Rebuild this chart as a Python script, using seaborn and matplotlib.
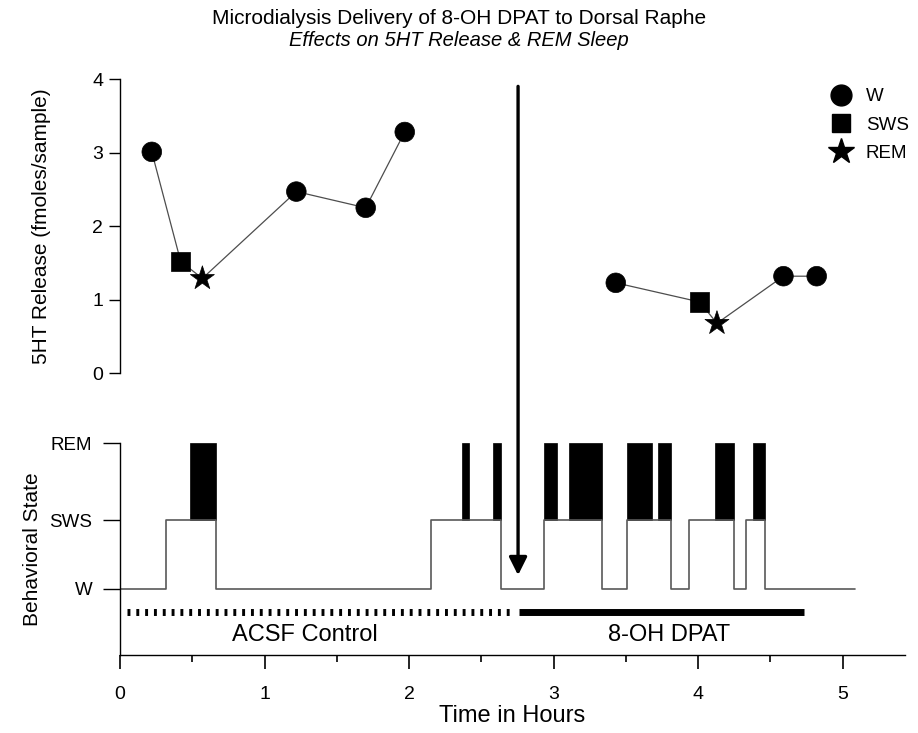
import matplotlib
matplotlib.use("Agg")
import matplotlib.pyplot as plt
import seaborn as sns
import pandas as pd
from matplotlib.lines import Line2D
from matplotlib.ticker import MultipleLocator

# ---------------- data ----------------
release_time = [0.22, 0.42, 0.57, 1.22, 1.70, 1.97, 3.43, 4.01, 4.13, 4.59, 4.82]
release_value = [3.01, 1.52, 1.29, 2.47, 2.25, 3.28, 1.23, 0.97, 0.68, 1.32, 1.32]
release_state = ["W", "SWS", "REM", "W", "W", "W", "W", "SWS", "REM", "W", "W"]
release_segment = ["ACSF"] * 6 + ["DPAT"] * 5

hyp_start = [0.0, 0.316, 0.487, 0.666, 2.150, 2.367, 2.417, 2.583, 2.635, 2.934,
             3.026, 3.109, 3.334, 3.507, 3.682, 3.725, 3.811, 3.940, 4.116, 4.246,
             4.332, 4.381, 4.464]
hyp_state = ["W", "SWS", "REM", "W", "SWS", "REM", "SWS", "REM", "W", "REM",
             "SWS", "REM", "W", "REM", "SWS", "REM", "W", "SWS", "REM", "W",
             "SWS", "REM", "W"]
hyp_end = 5.088

state_labels = ["W", "SWS", "REM"]
treatments = ["ACSF Control", "8-OH DPAT"]
treatment_start = [0.046, 2.76]
treatment_end = [2.72, 4.73]
injection_time = 2.754

# ---------------- style ----------------
sns.set_theme(style="ticks")
plt.rcParams["font.family"] = ["Liberation Sans", "DejaVu Sans"]
plt.rcParams["axes.linewidth"] = 1.0
plt.rcParams["text.color"] = "black"
plt.rcParams["axes.labelcolor"] = "black"

level = {"W": 0.0, "SWS": 1.0, "REM": 2.116}

fig = plt.figure(figsize=(9.18, 7.33), dpi=100)
ax_top = fig.add_axes([0.1307, 0.4907, 0.855, 0.4015])
ax_bot = fig.add_axes([0.1307, 0.1064, 0.855, 0.2892])

# ---------------- top panel ----------------
df = pd.DataFrame({"time": release_time, "release": release_value,
                   "state": release_state, "segment": release_segment})
sns.lineplot(data=df, x="time", y="release", units="segment", estimator=None,
             sort=False, color="0.3", lw=0.9, ax=ax_top, legend=False)
sns.scatterplot(data=df, x="time", y="release", style="state",
                markers={"W": "o", "SWS": "s", "REM": "*"},
                size="state", sizes={"W": 200, "SWS": 190, "REM": 330},
                color="black", edgecolor="black", linewidth=0.5,
                ax=ax_top, legend=False, zorder=3)
ax_top.set_xlim(0, 5.43)
ax_top.set_ylim(0, 4)
ax_top.set_yticks([0, 1, 2, 3, 4])
ax_top.set_xticks([])
ax_top.set_xlabel("")
ax_top.set_ylabel("5HT Release (fmoles/sample)", fontsize=15, labelpad=30)
for s in ["top", "right", "bottom"]:
    ax_top.spines[s].set_visible(False)
ax_top.spines["left"].set_color("black")
ax_top.tick_params(axis="y", length=8, width=1, labelsize=14, colors="black", pad=4)
ax_top.patch.set_alpha(0)

handles = [
    Line2D([], [], marker="o", ls="none", color="black", markersize=15),
    Line2D([], [], marker="s", ls="none", color="black", markersize=13),
    Line2D([], [], marker="*", ls="none", color="black", markersize=19),
]
fig.legend(handles, ["W", "SWS", "REM"], loc="upper left",
           bbox_to_anchor=(830 / 918, 1 - 88 / 733), frameon=False,
           fontsize=13.5, labelspacing=0.6, handlelength=1.2, handletextpad=0.7,
           borderpad=0, borderaxespad=0)

# ---------------- hypnogram ----------------
hx = hyp_start + [hyp_end]
hy = [min(level[s], level["SWS"]) for s in hyp_state] + [level[hyp_state[-1]]]
sns.lineplot(x=hx, y=hy, drawstyle="steps-post", estimator=None, sort=False,
             color="0.35", lw=1.2, ax=ax_bot)
ends = hyp_start[1:] + [hyp_end]
for st, s, e in zip(hyp_state, hyp_start, ends):
    if st == "REM":
        ax_bot.bar(s, level["REM"] - level["SWS"], width=e - s, bottom=level["SWS"],
                   align="edge", color="black", edgecolor="black", linewidth=0.5)

# treatment bars
ax_bot.plot([treatment_start[0], treatment_end[0]], [-0.33, -0.33], color="black",
            lw=5, solid_capstyle="butt", dash_capstyle="butt",
            linestyle=(0, (0.42, 0.85)))
ax_bot.plot([treatment_start[1], treatment_end[1]], [-0.33, -0.33], color="black",
            lw=5, solid_capstyle="butt")
ax_bot.text(1.28, -0.67, treatments[0], ha="center", va="center", fontsize=17)
ax_bot.text(3.80, -0.67, treatments[1], ha="center", va="center", fontsize=17)

ax_bot.set_xlim(0, 5.43)
ax_bot.set_ylim(-0.957, level["REM"])
ax_bot.set_yticks([level[s] for s in state_labels])
ax_bot.set_yticklabels(state_labels)
ax_bot.set_xticks([0, 1, 2, 3, 4, 5])
ax_bot.xaxis.set_minor_locator(MultipleLocator(0.5))
ax_bot.tick_params(axis="y", length=12, width=1, labelsize=13.5, colors="black", pad=8)
ax_bot.tick_params(axis="x", which="major", length=10, width=1.2, labelsize=14,
                   colors="black", pad=12)
ax_bot.tick_params(axis="x", which="minor", length=5, width=1.2, colors="black")
ax_bot.set_xlabel("Time in Hours", fontsize=17, labelpad=2)
ax_bot.set_ylabel("Behavioral State", fontsize=15, labelpad=5)
for s in ["top", "right"]:
    ax_bot.spines[s].set_visible(False)
ax_bot.spines["left"].set_color("black")
ax_bot.spines["bottom"].set_color("black")
ax_bot.patch.set_alpha(0)

# injection arrow spanning both panels
ax_bot.annotate("", xy=(injection_time, 0.20), xycoords="data",
                xytext=(injection_time, 3.90), textcoords=ax_top.transData,
                arrowprops=dict(arrowstyle="-|>", lw=2.4, color="black",
                                mutation_scale=27, shrinkA=0, shrinkB=0),
                annotation_clip=False)

# titles
fig.text(0.5, 1 - 18 / 733, "Microdialysis Delivery of 8-OH DPAT to Dorsal Raphe",
         ha="center", va="center", fontsize=15)
fig.text(0.5, 1 - 40 / 733, "Effects on 5HT Release & REM Sleep",
         ha="center", va="center", fontsize=14.5, style="italic")

fig.savefig("out.png", dpi=100)
